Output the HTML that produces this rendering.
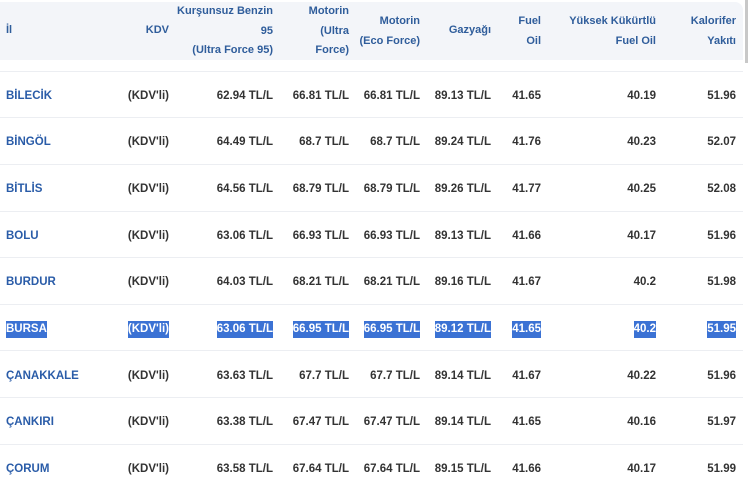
<!DOCTYPE html>
<html><head><meta charset="utf-8"><style>
body{margin:0;width:750px;height:481px;background:#fff;position:relative;overflow:hidden;font-family:"Liberation Sans",sans-serif;}
.hd{position:absolute;top:2px;left:0;width:743px;height:58px;background:#f3f5f9;border-radius:0 8px 0 0;}
.h{position:absolute;font-size:11px;font-weight:bold;color:#2f5d9b;line-height:19.5px;text-align:right;white-space:nowrap}
.c{position:absolute;font-size:11.5px;font-weight:bold;color:#333;white-space:nowrap;line-height:15px}
.city{color:#2a5ca8}
.ln{position:absolute;left:0;width:743px;height:1px;background:#eceef2}
.sel{background:#3b72d4;color:#fff;padding:1px 0;margin-top:-1px}
.sb{position:absolute;left:745px;top:0;width:3px;height:63px;background:#c8c8c8}
</style></head><body>
<div class="hd"></div>
<div class="sb"></div>
<div class="h" style="left:6px;top:21px;text-align:left">İl</div>
<div class="h" style="right:581px;top:21px">KDV</div>
<div class="h" style="right:477px;top:2px">Kurşunsuz Benzin<br>95<br>(Ultra Force 95)</div>
<div class="h" style="right:401px;top:2px">Motorin<br>(Ultra<br>Force)</div>
<div class="h" style="right:330px;top:12px">Motorin<br>(Eco Force)</div>
<div class="h" style="right:259px;top:21px">Gazyağı</div>
<div class="h" style="right:209px;top:12px">Fuel<br>Oil</div>
<div class="h" style="right:94px;top:12px">Yüksek Kükürtlü<br>Fuel Oil</div>
<div class="h" style="right:14px;top:12px">Kalorifer<br>Yakıtı</div>
<div id="rows"></div>
<script>
var d=[["BİLECİK","62.94","66.81","66.81","89.13","41.65","40.19","51.96"],
["BİNGÖL","64.49","68.7","68.7","89.24","41.76","40.23","52.07"],
["BİTLİS","64.56","68.79","68.79","89.26","41.77","40.25","52.08"],
["BOLU","63.06","66.93","66.93","89.13","41.66","40.17","51.96"],
["BURDUR","64.03","68.21","68.21","89.16","41.67","40.2","51.98"],
["BURSA","63.06","66.95","66.95","89.12","41.65","40.2","51.95"],
["ÇANAKKALE","63.63","67.7","67.7","89.14","41.67","40.22","51.96"],
["ÇANKIRI","63.38","67.47","67.47","89.14","41.65","40.16","51.97"],
["ÇORUM","63.58","67.64","67.64","89.15","41.66","40.17","51.99"]];
var h="",lines=[71,117,164,211,257,304,350,397,444];
lines.forEach(function(y){h+='<div class="ln" style="top:'+y+'px"></div>'});
d.forEach(function(r,i){var y=Math.round(88.5+i*46.7);var s=r[0]=="BURSA"?" sel":"";
h+='<div class="c city'+s+'" style="left:6px;top:'+y+'px">'+r[0]+'</div>';
h+='<div class="c'+s+'" style="right:581px;top:'+y+'px">(KDV\'li)</div>';
var R=[477,401,330,259];for(var k=0;k<4;k++)h+='<div class="c'+s+'" style="right:'+R[k]+'px;top:'+y+'px">'+r[k+1]+' TL/L</div>';
h+='<div class="c'+s+'" style="right:209px;top:'+y+'px">'+r[5]+'</div>';
h+='<div class="c'+s+'" style="right:94px;top:'+y+'px">'+r[6]+'</div>';
h+='<div class="c'+s+'" style="right:14px;top:'+y+'px">'+r[7]+'</div>';});
document.getElementById("rows").innerHTML=h;
</script>
</body></html>
